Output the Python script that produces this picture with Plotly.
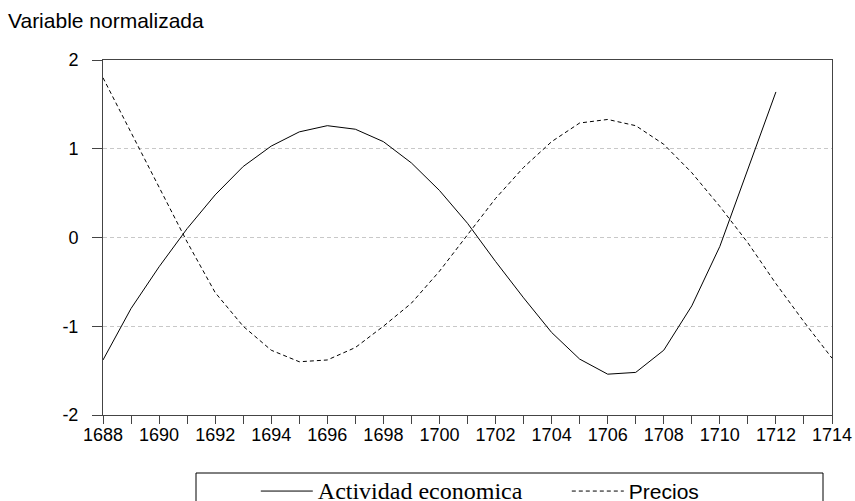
import plotly.graph_objects as go

years_act = list(range(1688, 1713))
actividad = [-1.38, -0.80, -0.33, 0.10, 0.48, 0.80, 1.03, 1.19, 1.26, 1.22,
             1.08, 0.84, 0.53, 0.16, -0.27, -0.68, -1.07, -1.37, -1.54, -1.52,
             -1.27, -0.77, -0.10, 0.77, 1.64]
years_pre = list(range(1688, 1715))
precios = [1.80, 1.18, 0.57, -0.05, -0.62, -1.00, -1.27, -1.40, -1.38, -1.24,
           -1.00, -0.74, -0.38, 0.03, 0.44, 0.79, 1.08, 1.29, 1.33, 1.26,
           1.05, 0.73, 0.35, -0.06, -0.52, -0.95, -1.36]
x_tickvals = list(range(1688, 1715, 2))
y_tickvals = [-2, -1, 0, 1, 2]
y_ticktext = ["-2", "-1", "0", "1", "2"]

SANS = "Liberation Sans, Arial, sans-serif"

fig = go.Figure()
fig.add_trace(go.Scatter(
    x=years_act, y=actividad, mode="lines",
    name='<span style="font-family:Liberation Serif, serif;font-size:24px">Actividad economica</span>',
    line=dict(color="black", width=1)))
fig.add_trace(go.Scatter(
    x=years_pre, y=precios, mode="lines", name="Precios",
    line=dict(color="black", width=1, dash="4px,3px")))

fig.update_layout(
    width=855, height=501,
    margin=dict(l=103, r=23, t=60, b=86, autoexpand=False),
    paper_bgcolor="white", plot_bgcolor="white",
    font=dict(family=SANS, size=18, color="black"),
    showlegend=True,
    legend=dict(orientation="h", x=0.2 + 7/729, xanchor="left", y=-0.18 + 8/355, yanchor="top",
                font=dict(family=SANS, size=21, color="black"),
                entrywidth=244, itemwidth=52,
                bgcolor="rgba(0,0,0,0)", borderwidth=0),
    xaxis=dict(range=[1688, 1714], tickvals=x_tickvals, ticks="outside", ticklen=8,
               tickcolor="#444", showline=True, linecolor="#444", linewidth=1,
               mirror=True, showgrid=False, zeroline=False, ticklabelstandoff=-5,
               minor=dict(dtick=1, tick0=1688, ticks="outside", ticklen=8,
                          tickcolor="#444", showgrid=False),
               tickfont=dict(family=SANS, size=18)),
    yaxis=dict(range=[-2, 2], tickvals=y_tickvals, ticktext=y_ticktext,
               ticks="outside", ticklen=10,
               tickcolor="#444", showline=True, linecolor="#444", linewidth=1,
               mirror=True, showgrid=True, gridcolor="#c8c8c8", griddash="4px,3px",
               gridwidth=1, zeroline=False, ticklabelstandoff=10,
               tickfont=dict(family=SANS, size=18)),
    annotations=[dict(text="Variable normalizada", xref="paper", yref="paper",
                      x=-97/729, y=1 + 39/355, xanchor="left", yanchor="middle",
                      showarrow=False, font=dict(family=SANS, size=21, color="black"))],
    shapes=[dict(type="rect", xref="paper", yref="paper",
                 x0=(196-103)/729, x1=(823-103)/729,
                 y0=(415-473)/355, y1=(415-560)/355,
                 line=dict(color="black", width=1), fillcolor="rgba(0,0,0,0)")],
)

fig.write_html("out.html", config={"displayModeBar": False},
               post_script="document.body.style.margin='0';document.body.style.overflow='hidden';")
